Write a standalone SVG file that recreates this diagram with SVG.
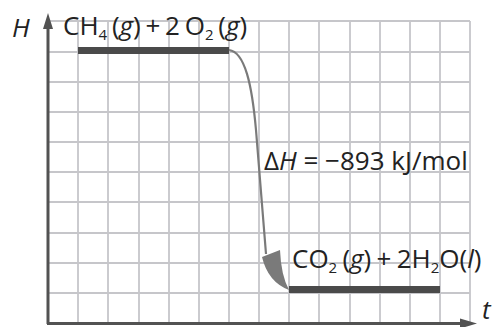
<svg xmlns="http://www.w3.org/2000/svg" width="497" height="327" viewBox="0 0 497 327">
<style>
.grid line{stroke:#c6c6ca;stroke-width:1.8}
.axis{stroke:#525252;stroke-width:3;fill:none}
.head{fill:#525252}
.bar{fill:#4a4a4a}
.t{font-family:"Open Sans","Liberation Sans",sans-serif;font-size:26px;fill:#222}
.sub{font-size:15px}
.it{font-style:italic}
.conn{stroke:#7a7a7a;stroke-width:2.2;fill:none}
.ah{fill:#7a7a7a}
</style>
<rect width="497" height="327" fill="#fff"/>
<g id="grid" class="grid">
<line x1="78" y1="21" x2="78" y2="323"/>
<line x1="108" y1="21" x2="108" y2="323"/>
<line x1="139" y1="21" x2="139" y2="323"/>
<line x1="169" y1="21" x2="169" y2="323"/>
<line x1="199" y1="21" x2="199" y2="323"/>
<line x1="229" y1="21" x2="229" y2="323"/>
<line x1="259" y1="21" x2="259" y2="323"/>
<line x1="289" y1="21" x2="289" y2="323"/>
<line x1="319" y1="21" x2="319" y2="323"/>
<line x1="350" y1="21" x2="350" y2="323"/>
<line x1="380" y1="21" x2="380" y2="323"/>
<line x1="410" y1="21" x2="410" y2="323"/>
<line x1="440" y1="21" x2="440" y2="323"/>
<line x1="470" y1="21" x2="470" y2="323"/>
<line x1="48" y1="21" x2="470" y2="21"/>
<line x1="48" y1="52" x2="470" y2="52"/>
<line x1="48" y1="82" x2="470" y2="82"/>
<line x1="48" y1="112" x2="470" y2="112"/>
<line x1="48" y1="142" x2="470" y2="142"/>
<line x1="48" y1="172" x2="470" y2="172"/>
<line x1="48" y1="202" x2="470" y2="202"/>
<line x1="48" y1="233" x2="470" y2="233"/>
<line x1="48" y1="263" x2="470" y2="263"/>
<line x1="48" y1="293" x2="470" y2="293"/>
</g>
<g id="axes">
<path class="axis" d="M48,324 V27 M47,323.5 H462"/>
<polygon class="head" points="48,13 43,29 53,29"/>
<polygon class="head" points="477,323.5 460,318.5 460,328.5"/>
<text class="t it" x="12" y="37" font-size="21">H</text>
<text class="t it" x="482" y="319" font-size="19">t</text>
</g>
<g id="reactants">
<rect class="bar" x="78" y="47" width="151" height="7"/>
<text class="t" x="63" y="35" word-spacing="-2">CH<tspan class="sub" dy="5">4</tspan><tspan dy="-5"> (</tspan><tspan class="it">g</tspan>) + 2 O<tspan class="sub" dy="5">2</tspan><tspan dy="-5"> (</tspan><tspan class="it">g</tspan>)</text>
</g>
<g id="products">
<rect class="bar" x="289" y="286" width="151" height="7"/>
<text class="t" x="292" y="268" word-spacing="-1.5">CO<tspan class="sub" dy="5">2</tspan><tspan dy="-5"> (</tspan><tspan class="it">g</tspan>) + 2H<tspan class="sub" dy="5">2</tspan><tspan dy="-5">O(</tspan><tspan class="it">l</tspan>)</text>
</g>
<g id="connectors">
<path class="conn" d="M229,50 C245,52 252,85 256,130 C260,175 263,215 266,254"/>
<path class="ah" d="M262,257 L280,250 Q281,275 289,290 Q268,282 262,257 Z"/>
<text class="t" x="264" y="170">Δ<tspan class="it">H</tspan> = −893 kJ/mol</text>
</g>
</svg>
